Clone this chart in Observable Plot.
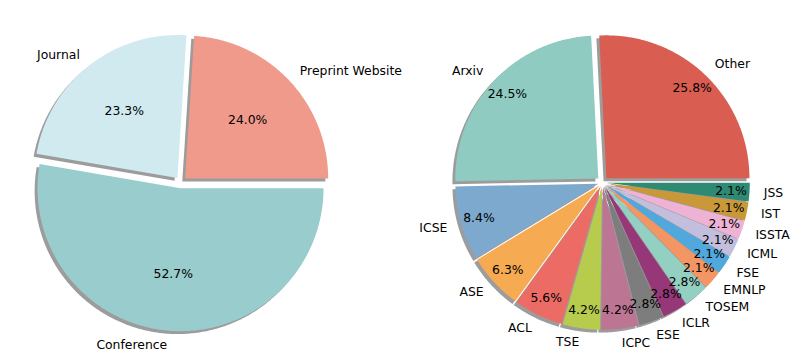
<!DOCTYPE html>
<html><head><meta charset="utf-8">
<script src="https://cdn.jsdelivr.net/npm/d3@7"></script>
<script src="https://cdn.jsdelivr.net/npm/@observablehq/plot@0.6"></script>
<style>html,body{margin:0;padding:0;background:#fff;}</style>
</head><body><div id="chart"></div>
<script>
// Left pie: venue type
const typeLabels = ["Preprint Website", "Journal", "Conference"];
const typeShares = [24.0, 23.3, 52.7];
const typePalette = ["#F09A8B", "#D1EAF0", "#99CCCC"];
const typeExplode = [0.04, 0.04, 0.04];

// Right pie: venue
const venueLabels = ["Other", "Arxiv", "ICSE", "ASE", "ACL", "TSE", "ICPC", "ESE", "ICLR", "TOSEM", "EMNLP", "FSE", "ICML", "ISSTA", "IST", "JSS"];
const venueShares = [25.8, 24.5, 8.4, 6.3, 5.6, 4.2, 4.2, 2.8, 2.8, 2.8, 2.1, 2.1, 2.1, 2.1, 2.1, 2.1];
const venuePalette = ["#D95D50", "#8FCBC0", "#7EA9CE", "#F6AB52", "#EC6C65", "#B7CC4D", "#BC7694", "#7D7D7D", "#963878", "#94D0C2", "#F39664", "#50A8DC", "#C4BEDE", "#EDB2D4", "#C99838", "#2E8A72"];
const venueExplode = [0.04, 0.04, 0.03, 0.03, 0.03, 0.03, 0.03, 0.03, 0.03, 0.03, 0.03, 0.03, 0.03, 0.03, 0.03, 0.03];

function buildPie(key, labels, values, explode, cx, pctDist) {
  const total = d3.sum(values);
  const pie = d3.pie().sort(null).value(d => d).startAngle(0).endAngle(2 * Math.PI)(values);
  const polys = [], shadows = [], names = [], pcts = [];
  pie.forEach((p, i) => {
    const a0 = p.startAngle, a1 = p.endAngle, am = (a0 + a1) / 2;
    const ox = cx + explode[i] * Math.cos(am), oy = explode[i] * Math.sin(am);
    const n = Math.max(3, Math.ceil((a1 - a0) / (Math.PI / 360)));
    const pts = [[ox, oy]];
    for (let k = 0; k <= n; k++) {
      const t = a0 + (a1 - a0) * k / n;
      pts.push([ox + Math.cos(t), oy + Math.sin(t)]);
    }
    const id = key + ":" + labels[i];
    for (const [x, y] of pts) {
      polys.push({id, label: labels[i], x, y});
      shadows.push({id, x: x - 0.02, y: y - 0.02});
    }
    names.push({text: labels[i], x: ox + 1.1 * Math.cos(am), y: oy + 1.1 * Math.sin(am), right: Math.cos(am) > 0});
    pcts.push({text: (values[i] / total * 100).toFixed(1) + "%", x: ox + pctDist * Math.cos(am), y: oy + pctDist * Math.sin(am)});
  });
  return {polys, shadows, names, pcts};
}

const R = 143;               // pixels per pie-radius unit
const leftCx = 0, rightCx = (602 - 180.5) / R;
const L = buildPie("L", typeLabels, typeShares, typeExplode, leftCx, 0.6);
const Rt = buildPie("R", venueLabels, venueShares, venueExplode, rightCx, 0.87);

const W = 797, H = 364;
const x0 = -180.5 / R, x1 = (W - 180.5) / R;
const yTop = 182 / R, yBot = (182 - H) / R;
const allNames = [...L.names, ...Rt.names];

const chart = Plot.plot({
  width: W, height: H,
  margin: 0,
  x: {domain: [x0, x1], range: [0, W], axis: null},
  y: {domain: [yBot, yTop], range: [H, 0], axis: null},
  color: {domain: [...typeLabels, ...venueLabels], range: [...typePalette, ...venuePalette]},
  style: {fontFamily: "DejaVu Sans", fontSize: "12.4px", background: "#fff"},
  marks: [
    Plot.line([...L.shadows, ...Rt.shadows], {x: "x", y: "y", z: "id", fill: "#3a3a3a", fillOpacity: 0.5, stroke: "none", curve: "linear-closed"}),
    Plot.line([...L.polys, ...Rt.polys], {x: "x", y: "y", z: "id", fill: "label", stroke: "none", curve: "linear-closed"}),
    Plot.text(allNames.filter(d => d.right), {x: "x", y: "y", text: "text", textAnchor: "start", fontSize: 12.4, fill: "#000"}),
    Plot.text(allNames.filter(d => !d.right), {x: "x", y: "y", text: "text", textAnchor: "end", fontSize: 12.4, fill: "#000"}),
    Plot.text([...L.pcts, ...Rt.pcts], {x: "x", y: "y", text: "text", textAnchor: "middle", fontSize: 12.4, fill: "#000"})
  ]
});
document.getElementById("chart").appendChild(chart);
</script>
</body></html>
